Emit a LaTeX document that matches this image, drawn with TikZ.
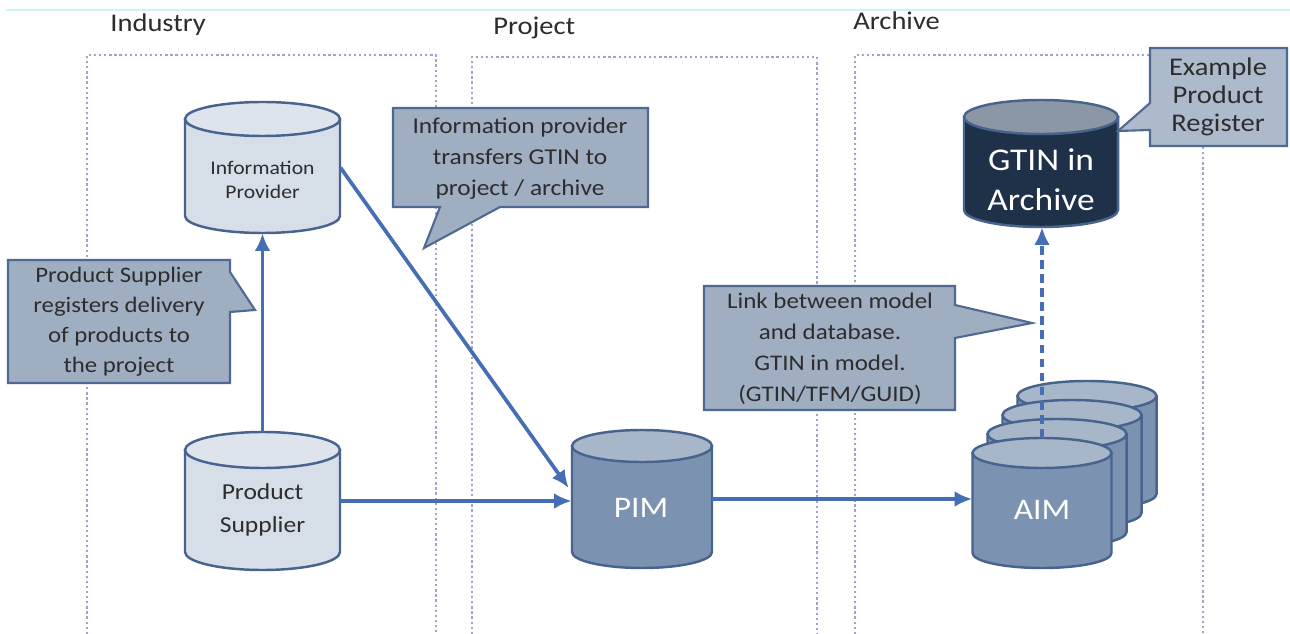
\documentclass[tikz,border=0pt]{standalone}
\usepackage{fontspec}
\setmainfont{Carlito}[FakeStretch=1.12]
\usetikzlibrary{arrows.meta,calc}

\definecolor{flow}{RGB}{70,110,180}
\definecolor{drumedge}{RGB}{72,100,142}
\definecolor{lightbody}{RGB}{214,222,232}
\definecolor{lightcap}{RGB}{221,228,236}
\definecolor{midbody}{RGB}{124,146,177}
\definecolor{midcap}{RGB}{168,182,201}
\definecolor{darkbody}{RGB}{30,49,73}
\definecolor{darkcap}{RGB}{140,151,165}
\definecolor{notefill}{RGB}{160,174,193}
\definecolor{notefilllight}{RGB}{173,186,203}
\definecolor{noteedge}{RGB}{79,106,146}
\definecolor{zone}{RGB}{160,165,204}
\definecolor{ink}{RGB}{45,45,45}
\definecolor{rule}{RGB}{207,243,251}

% a database drum: name, centre x, top y, width, height, cap half-height, body colour, cap colour
\newcommand\drum[8]{%
  \pgfmathsetmacro\drx{#4/2}%
  \pgfmathsetmacro\dxl{#2-#4/2}%
  \pgfmathsetmacro\dxr{#2+#4/2}%
  \pgfmathsetmacro\dyt{#3+#6}%
  \pgfmathsetmacro\dyb{#3+#5-#6}%
  \filldraw[drumline, fill=#7] (\dxl,\dyt) -- (\dxl,\dyb)
     arc[start angle=180, end angle=360, x radius=\drx*0.02cm, y radius=#6*0.02cm]
     -- (\dxr,\dyt) -- cycle;
  \filldraw[drumline, fill=#8] (#2,\dyt) ellipse[x radius=\drx*0.02cm, y radius=#6*0.02cm];
  \node[inner sep=0pt, minimum width=#4*0.02cm, minimum height=#5*0.02cm] (#1) at (#2,{#3+#5/2}) {};
}

\tikzset{
  drumline/.style={draw=drumedge, line width=1.4pt},
  zonebox/.style={draw=zone, line width=1.4pt, dash pattern=on 1.3pt off 1.6pt},
  flowline/.style={draw=flow, line width=2.1pt, -{Latex[length=10pt,width=9pt]}},
  linkline/.style={flowline, dash pattern=on 5pt off 3pt},
  note/.style={fill=notefill, draw=noteedge, line width=1.2pt},
  notetext/.style={align=center, text=ink, inner sep=0pt},
  zonetitle/.style={anchor=base west, text=ink, inner sep=0pt, font=\fontsize{14.5}{16}\selectfont},
}

\begin{document}
\begin{tikzpicture}[x=0.02cm, y=-0.02cm]
\useasboundingbox (0,0) rectangle (1290,634);
\fill[white] (0,0) rectangle (1290,634);
\draw[rule, line width=0.8pt] (6,10) -- (1290,10);

% zones
\draw[zonebox] (87,634) -- (87,55) -- (436,55) -- (436,634);
\draw[zonebox] (472,634) -- (472,57) -- (817,57) -- (817,634);
\draw[zonebox] (855,634) -- (855,55) -- (1203,55) -- (1203,634);

\node[zonetitle] (t-ind) at (110,32) {Industry};
\node[zonetitle] (t-pro) at (493,35) {Project};
\node[zonetitle] (t-arc) at (853,30) {Archive};

% databases
\drum{ip}{262.5}{102}{155}{131}{17}{lightbody}{lightcap}
\drum{ps}{262.5}{432}{155}{138}{18}{lightbody}{lightcap}
\drum{pim}{642}{430}{140}{138}{16}{midbody}{midcap}
\drum{aimd}{1087}{381}{139}{128}{15}{midbody}{midcap}
\drum{aimc}{1072}{400}{139}{128}{15}{midbody}{midcap}
\drum{aimb}{1057}{419}{139}{128}{15}{midbody}{midcap}
\drum{aim}{1042}{438}{139}{130}{15}{midbody}{midcap}
\drum{gtin}{1041}{100}{154}{127}{17}{darkbody}{darkcap}

\node[notetext, font=\fontsize{11}{14}\selectfont] (ip-l) at (262.5,180) {Information\\Provider};
\node[notetext, font=\fontsize{13}{19}\selectfont] (ps-l) at (262.5,510) {Product\\Supplier};
\node[notetext, font=\fontsize{17}{20}\selectfont, text=white] (pim-l) at (641,508) {PIM};
\node[notetext, font=\fontsize{17}{20}\selectfont, text=white] (aim-l) at (1042,510) {AIM};
\node[notetext, font=\fontsize{18}{22.7}\selectfont, text=white] (gtin-l) at (1041,180) {GTIN in\\Archive};

% flows
\draw[flowline] (ps.north) -- (ip.south);
\draw[flowline] (ip.east) -- ($(pim.west)+(-3,-11)$);
\draw[flowline] (ps.east) -- (ps.east -| pim.west);
\draw[flowline] (pim.east) -- (pim.east -| aim.west);
\draw[linkline] (aim.north) -- (aim.north |- gtin.south);

% notes
\filldraw[note] (393,108) -- (648,108) -- (648,207) -- (500,207) -- (424,248) -- (440,207) -- (393,207) -- cycle;
\node[notetext, font=\fontsize{12.9}{17.6}\selectfont] (n-ip) at (520,159)
  {Information provider\\transfers GTIN to\\project / archive};

\filldraw[note] (8,260) -- (230,260) -- (230,272) -- (255,310) -- (230,312) -- (230,383) -- (8,383) -- cycle;
\node[notetext, font=\fontsize{12.6}{17}\selectfont] (n-ps) at (119,322)
  {Product Supplier\\registers delivery\\of products to\\the project};

\filldraw[note] (704,286) -- (955,286) -- (955,305) -- (1032,323) -- (955,338) -- (955,410) -- (704,410) -- cycle;
\node[notetext, font=\fontsize{12.7}{17.6}\selectfont] (n-link) at (830,349)
  {Link between model\\and database.\\GTIN in model.\\(GTIN/TFM/GUID)};

\filldraw[note, fill=notefilllight] (1150,48) -- (1287,48) -- (1287,146) -- (1150,146) -- (1150,130) -- (1118,131) -- (1150,103) -- cycle;
\node[notetext, font=\fontsize{14.5}{16}\selectfont] (n-ex) at (1218,97)
  {Example\\Product\\Register};
\end{tikzpicture}
\end{document}
